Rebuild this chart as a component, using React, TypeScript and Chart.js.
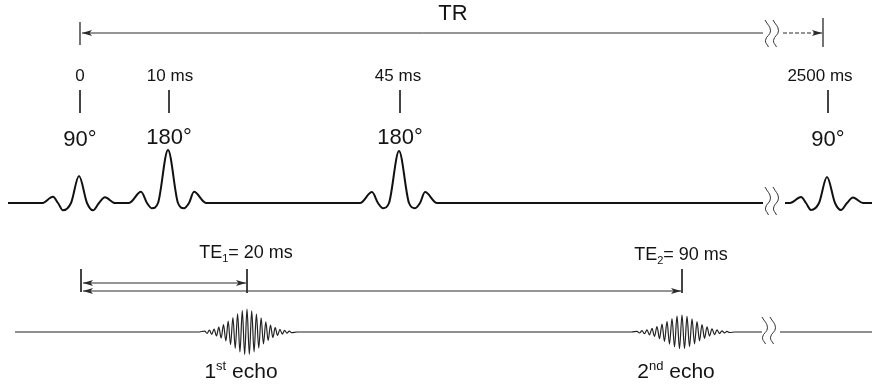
import React, { useEffect, useRef } from "react";
import { Chart, registerables } from "chart.js";

Chart.register(...registerables);

// ---------- data (schematic diagram units) ----------
const timeLabels = ["0", "10 ms", "45 ms", "2500 ms"];
const angleLabels = ["90°", "180°", "180°", "90°"];
const pulseX = [79, 168, 399, 827];
const pulseHeight = [27, 53, 52, 26];
const pulseIs180 = [false, true, true, false];

// RF pulse lobe shapes: offset from pulse centre and normalised height
const p90Offsets = [-37, -26, -21, -16, -8, 0, 8, 14, 20, 26, 36];
const p90Values = [0, 0.23, 0, -0.27, 0, 1, 0, -0.27, 0, 0.21, 0];
const p180Offsets = [-39, -27, -21, -16, -10, 0, 10, 16, 21, 26, 38];
const p180Values = [0, 0.21, 0, -0.1, 0, 1, 0, -0.1, 0, 0.21, 0];

const echoX = [247, 682];
const echoHeight = [23, 17];
const echoSpacing = [2.35, 2.5];
const echoOrdinal = [["1", "st"], ["2", "nd"]];
const teSub = ["1", "2"];
const teValues = ["= 20 ms", "= 90 ms"];
// normalised half-cycle amplitudes of an echo, left to right
const echoEnvelope = [
  0.04, 0.06, 0.08, 0.1, 0.13, 0.17, 0.21, 0.26, 0.32, 0.39, 0.47, 0.55, 0.63,
  0.71, 0.79, 0.87, 0.93, 0.98, 1.0, 0.97, 0.92, 0.86, 0.78, 0.7, 0.61, 0.52,
  0.44, 0.37, 0.3, 0.24, 0.19, 0.15, 0.12, 0.09, 0.07, 0.05, 0.04, 0.03,
];
const echoPeakIndex = 18;

// ---------- layout (diagram units = px) ----------
const W = 872;
const H = 388;
const TR_Y = 33;
const RF_Y = 203;
const ECHO_Y = 332;
const BREAK_END = 763;
const BREAK_RESUME = 783;
const BREAK_MARKS = [768, 776];

type P = { x: number; y: number };

function makeArrowCanvas(): HTMLCanvasElement {
  const c = document.createElement("canvas");
  c.width = 24;
  c.height = 8;
  const g = c.getContext("2d")!;
  g.fillStyle = "#2a2a2a";
  g.beginPath();
  g.moveTo(12, 4);
  g.lineTo(2, 1);
  g.lineTo(4.5, 4);
  g.lineTo(2, 7);
  g.closePath();
  g.fill();
  return c;
}

function pulsePoints(i: number): P[] {
  const offs = pulseIs180[i] ? p180Offsets : p90Offsets;
  const vals = pulseIs180[i] ? p180Values : p90Values;
  return offs.map((o, k) => ({ x: pulseX[i] + o, y: RF_Y - vals[k] * pulseHeight[i] }));
}

function echoPoints(i: number): P[] {
  const pts: P[] = [];
  const n = echoEnvelope.length;
  pts.push({ x: echoX[i] + (-1 - echoPeakIndex) * echoSpacing[i] - 3, y: ECHO_Y });
  for (let k = 0; k < n; k++) {
    const sign = (k - echoPeakIndex) % 2 === 0 ? 1 : -1;
    pts.push({
      x: echoX[i] + (k - echoPeakIndex) * echoSpacing[i],
      y: ECHO_Y - sign * echoEnvelope[k] * echoHeight[i],
    });
  }
  pts.push({ x: echoX[i] + (n - echoPeakIndex) * echoSpacing[i] + 3, y: ECHO_Y });
  return pts;
}

function breakMark(c: number, y0: number, y1: number): P[] {
  const h = y1 - y0;
  return [
    { x: c - 3, y: y0 },
    { x: c + 2.5, y: y0 + h * 0.4 },
    { x: c - 2.5, y: y0 + h * 0.75 },
    { x: c + 0.5, y: y1 },
  ];
}

type Lab = { x: number; y: number; size: number; parts: { t: string; sup?: boolean; sub?: boolean }[] };

function buildLabels(): Lab[] {
  const labs: Lab[] = [];
  labs.push({ x: 453, y: 20, size: 22, parts: [{ t: "TR" }] });
  const timeLabelX = [80, 170, 398, 820];
  timeLabels.forEach((t, i) => labs.push({ x: timeLabelX[i], y: 81, size: 17, parts: [{ t }] }));
  angleLabels.forEach((t, i) =>
    labs.push({ x: pulseX[i] + 1, y: pulseIs180[i] ? 144 : 146, size: 22, parts: [{ t }] })
  );
  teSub.forEach((s, i) =>
    labs.push({
      x: echoX[i] - 1,
      y: 258 + i * 2,
      size: 18,
      parts: [{ t: "TE" }, { t: s, sub: true }, { t: teValues[i] }],
    })
  );
  echoOrdinal.forEach((o, i) =>
    labs.push({
      x: echoX[i] - 6,
      y: 378,
      size: 21,
      parts: [{ t: o[0] }, { t: o[1], sup: true }, { t: " echo" }],
    })
  );
  return labs;
}

const textPlugin = {
  id: "diagramText",
  afterDatasetsDraw(chart: any) {
    const { ctx } = chart;
    const xs = chart.scales.x;
    const ys = chart.scales.y;
    ctx.save();
    ctx.fillStyle = "#141414";
    ctx.textBaseline = "alphabetic";
    ctx.textAlign = "left";
    for (const lab of buildLabels()) {
      const font = (p: any) =>
        `${p.sup || p.sub ? Math.round(lab.size * 0.62) : lab.size}px "Liberation Sans", Arial, sans-serif`;
      let total = 0;
      for (const p of lab.parts) {
        ctx.font = font(p);
        total += ctx.measureText(p.t).width;
      }
      let cx = xs.getPixelForValue(lab.x) - total / 2;
      const by = ys.getPixelForValue(lab.y);
      for (const p of lab.parts) {
        ctx.font = font(p);
        const dy = p.sup ? -lab.size * 0.36 : p.sub ? lab.size * 0.2 : 0;
        ctx.fillText(p.t, cx, by + dy);
        cx += ctx.measureText(p.t).width;
      }
    }
    ctx.restore();
  },
};

function line(data: P[], opts: any = {}) {
  return {
    type: "scatter",
    data,
    showLine: true,
    pointRadius: 0,
    borderColor: "#2a2a2a",
    borderWidth: 1,
    tension: 0,
    ...opts,
  };
}

export default function App() {
  const ref = useRef<HTMLCanvasElement | null>(null);
  useEffect(() => {
    if (!ref.current) return;
    const arrow = makeArrowCanvas();
    const datasets: any[] = [];

    // RF line before and after the time-axis break
    const rfA: P[] = [{ x: 8, y: RF_Y }];
    const rfB: P[] = [{ x: BREAK_RESUME + 2, y: RF_Y }];
    pulseX.forEach((px, i) => {
      (px < BREAK_END ? rfA : rfB).push(...pulsePoints(i));
    });
    rfA.push({ x: BREAK_END, y: RF_Y });
    rfB.push({ x: W, y: RF_Y });
    const rfStyle = { borderColor: "#111", borderWidth: 2, cubicInterpolationMode: "monotone" };
    datasets.push(line(rfA, rfStyle), line(rfB, rfStyle));

    // echo line
    const ecA: P[] = [{ x: 15, y: ECHO_Y }];
    echoX.forEach((_, i) => ecA.push(...echoPoints(i)));
    ecA.push({ x: BREAK_END - 1, y: ECHO_Y });
    const ecB: P[] = [{ x: BREAK_RESUME - 3, y: ECHO_Y }, { x: W, y: ECHO_Y }];
    const ecStyle = { borderColor: "#222", borderWidth: 1.2, cubicInterpolationMode: "monotone" };
    datasets.push(line(ecA, ecStyle), line(ecB, ecStyle));

    // break marks
    const brStyle = { borderColor: "#333", borderWidth: 1, tension: 0.45 };
    BREAK_MARKS.forEach((m) => {
      datasets.push(line(breakMark(m, 20, 47), brStyle));
      datasets.push(line(breakMark(m, 187, 215), brStyle));
      datasets.push(line(breakMark(m - 3, 317, 344), brStyle));
    });

    // TR arrow
    datasets.push(line([{ x: pulseX[0] + 1, y: 22 }, { x: pulseX[0] + 1, y: 45 }], { borderWidth: 1.3 }));
    datasets.push(line([{ x: pulseX[0] + 3, y: TR_Y }, { x: BREAK_END, y: TR_Y }]));
    datasets.push(line([{ x: BREAK_RESUME, y: TR_Y }, { x: pulseX[3] - 5, y: TR_Y }], { borderDash: [4, 2] }));
    datasets.push(line([{ x: pulseX[3] - 4, y: 18 }, { x: pulseX[3] - 4, y: 47 }], { borderWidth: 1.3 }));

    // time ticks above the pulses
    pulseX.forEach((px) => datasets.push(line([{ x: px + 1, y: 90 }, { x: px + 1, y: 113 }])));

    // TE markers
    const teStartX = pulseX[0] + 2;
    datasets.push(line([{ x: teStartX, y: 269 }, { x: teStartX, y: 292 }]));
    echoX.forEach((ex) => datasets.push(line([{ x: ex, y: 269 }, { x: ex, y: 293 }])));
    const teY = [283, 291];
    echoX.forEach((ex, i) =>
      datasets.push(line([{ x: teStartX + 2, y: teY[i] }, { x: ex - 1, y: teY[i] }]))
    );

    // arrowheads
    const heads: P[] = [
      { x: pulseX[0] + 3, y: TR_Y },
      { x: pulseX[3] - 5, y: TR_Y },
      { x: teStartX + 2, y: teY[0] },
      { x: echoX[0] - 1, y: teY[0] },
      { x: teStartX + 2, y: teY[1] },
      { x: echoX[1] - 1, y: teY[1] },
    ];
    datasets.push({
      type: "scatter",
      data: heads,
      showLine: false,
      pointStyle: arrow,
      pointRadius: 5,
      rotation: [180, 0, 180, 0, 180, 0],
    });

    const chart = new Chart(ref.current, {
      type: "scatter",
      data: { datasets },
      options: {
        responsive: false,
        animation: false,
        devicePixelRatio: 1,
        events: [],
        layout: { padding: 0, autoPadding: false },
        plugins: { legend: { display: false }, tooltip: { enabled: false } },
        scales: {
          x: { type: "linear", min: 0, max: W, display: false },
          y: { type: "linear", min: 0, max: H, reverse: true, display: false },
        },
      },
      plugins: [textPlugin],
    } as any);
    return () => chart.destroy();
  }, []);

  return (
    <div style={{ position: "absolute", left: 0, top: 0, width: W, height: H, background: "#fff" }}>
      <canvas ref={ref} width={W} height={H} style={{ display: "block", width: W, height: H }} />
    </div>
  );
}
